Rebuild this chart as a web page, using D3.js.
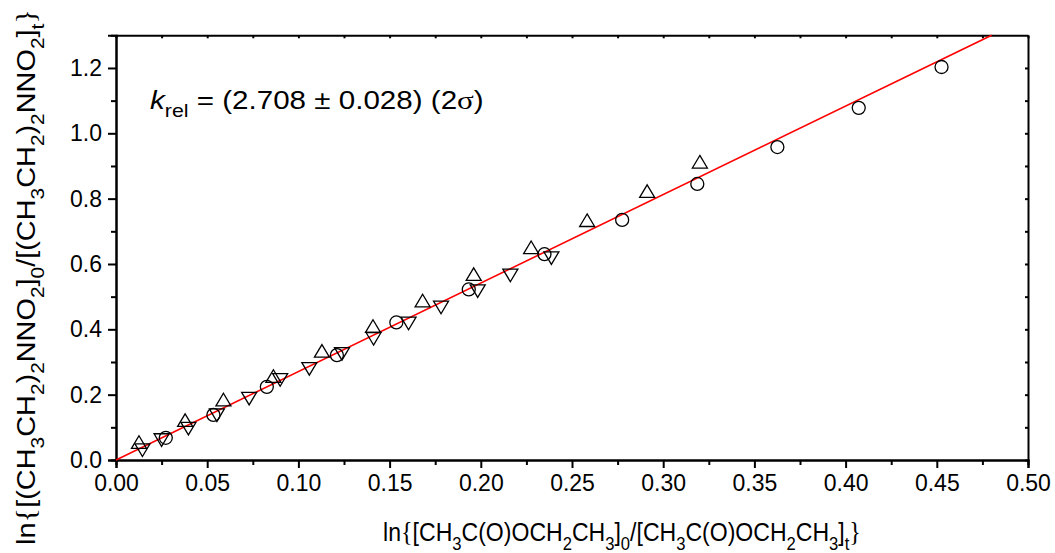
<!DOCTYPE html>
<html>
<head>
<meta charset="utf-8">
<script src="https://cdn.jsdelivr.net/npm/d3@7"></script>
<style>
  body { margin: 0; background: #fff; }
  text { font-family: "Liberation Sans", Arial, sans-serif; fill: #000; }
</style>
</head>
<body>
<svg id="chart" width="1055" height="553"></svg>
<script>
// Relative-rate data: three experiment series (open circles, up / down triangles)
const circleX = [0.0273, 0.0534, 0.0827, 0.1211, 0.1537, 0.1934, 0.2349, 0.2775, 0.3187, 0.3626, 0.4072, 0.4526];
const circleY = [0.068, 0.138, 0.224, 0.321, 0.421, 0.522, 0.630, 0.735, 0.845, 0.958, 1.078, 1.203];

const upX = [0.0126, 0.0379, 0.0589, 0.0863, 0.1129, 0.1409, 0.1681, 0.1961, 0.2276, 0.2583, 0.2912, 0.3201];
const upY = [0.055, 0.122, 0.185, 0.257, 0.334, 0.410, 0.488, 0.569, 0.651, 0.734, 0.823, 0.913];

const downX = [0.0145, 0.0250, 0.0397, 0.0553, 0.0730, 0.0900, 0.1060, 0.1239, 0.1412, 0.1604, 0.1782, 0.1983, 0.2162, 0.2387];
const downY = [0.030, 0.061, 0.096, 0.137, 0.188, 0.245, 0.279, 0.325, 0.371, 0.418, 0.467, 0.517, 0.565, 0.618];

// Fitted slope (k_rel) of the line through the origin
const kRel = 2.708;

// Axis ticks
const xMajorTicks = [0, 0.05, 0.10, 0.15, 0.20, 0.25, 0.30, 0.35, 0.40, 0.45, 0.50];
const xMinorTicks = [0.025, 0.075, 0.125, 0.175, 0.225, 0.275, 0.325, 0.375, 0.425, 0.475];
const yMajorTicks = [0, 0.2, 0.4, 0.6, 0.8, 1.0, 1.2];
const yMinorTicks = [0.1, 0.3, 0.5, 0.7, 0.9, 1.1];

const svg = d3.select("#chart");

const x = d3.scaleLinear().domain([0, 0.5]).range([116, 1028]);
const y = d3.scaleLinear().domain([0, 1.3]).range([460, 35.3]);

const axisStyle = g => {
  g.select(".domain").attr("stroke", "#000").attr("stroke-width", 2);
  g.selectAll(".tick line").attr("stroke", "#000").attr("stroke-width", 2);
  g.selectAll(".tick text").attr("font-size", 23).attr("fill", "#000")
    .attr("font-family", "'Liberation Sans', Arial, sans-serif");
};

// Bottom axis: major with labels, then minor
svg.append("g").attr("transform", `translate(0,${y(0)})`)
  .call(d3.axisBottom(x).tickValues(xMajorTicks).tickFormat(d3.format(".2f")).tickSize(8).tickPadding(7))
  .call(axisStyle);
svg.append("g").attr("transform", `translate(0,${y(0)})`)
  .call(d3.axisBottom(x).tickValues(xMinorTicks).tickFormat("").tickSize(5))
  .call(axisStyle);

// Left axis
svg.append("g").attr("transform", `translate(${x(0)},0)`)
  .call(d3.axisLeft(y).tickValues(yMajorTicks).tickFormat(d3.format(".1f")).tickSize(8).tickPadding(6))
  .call(axisStyle);
svg.append("g").attr("transform", `translate(${x(0)},0)`)
  .call(d3.axisLeft(y).tickValues(yMinorTicks).tickFormat("").tickSize(5))
  .call(axisStyle);

// Top and right frame with short inward ticks
svg.append("g").attr("transform", `translate(0,${y(1.3)})`)
  .call(d3.axisTop(x).tickValues(xMajorTicks.concat(xMinorTicks)).tickFormat("").tickSizeInner(-3).tickSizeOuter(0))
  .call(axisStyle);
svg.append("g").attr("transform", `translate(${x(0.5)},0)`)
  .call(d3.axisRight(y).tickValues(yMajorTicks.concat(yMinorTicks)).tickFormat("").tickSizeInner(-3).tickSizeOuter(0))
  .call(axisStyle);

// Fit line through the origin, up to the top of the frame
const xEnd = y.domain()[1] / kRel;
svg.append("path")
  .datum([0, xEnd])
  .attr("d", d3.line().x(d => x(d)).y(d => y(kRel * d)))
  .attr("fill", "none")
  .attr("stroke", "#ff0000")
  .attr("stroke-width", 1.6);

// Marker shapes (centred on their bounding box)
const W = 15, H = 12.6, R = 6.5;
const triUp = {
  draw(ctx) {
    ctx.moveTo(0, -H / 2); ctx.lineTo(W / 2, H / 2); ctx.lineTo(-W / 2, H / 2); ctx.closePath();
  }
};
const triDown = {
  draw(ctx) {
    ctx.moveTo(0, H / 2); ctx.lineTo(W / 2, -H / 2); ctx.lineTo(-W / 2, -H / 2); ctx.closePath();
  }
};

function drawSeries(xs, ys, type) {
  const pts = xs.map((v, i) => [v, ys[i]]);
  const g = svg.append("g");
  if (type === "circle") {
    g.selectAll("circle").data(pts).join("circle")
      .attr("cx", d => x(d[0])).attr("cy", d => y(d[1])).attr("r", R)
      .attr("fill", "none").attr("stroke", "#000").attr("stroke-width", 1.3);
  } else {
    g.selectAll("path").data(pts).join("path")
      .attr("transform", d => `translate(${x(d[0])},${y(d[1])})`)
      .attr("d", d3.symbol().type(type === "up" ? triUp : triDown)())
      .attr("fill", "none").attr("stroke", "#000").attr("stroke-width", 1.3);
  }
}
drawSeries(upX, upY, "up");
drawSeries(downX, downY, "down");
drawSeries(circleX, circleY, "circle");

// Text with subscripts / italics / serif glyphs
function rich(textSel, parts, size) {
  let cur = 0;
  parts.forEach(([str, kind]) => {
    const sub = kind === "sub";
    const target = sub ? size * 0.33 : 0;
    const ts = textSel.append("tspan").text(str).attr("dy", target - cur);
    cur = target;
    if (sub) ts.attr("font-size", size * 0.72);
    if (kind === "it") ts.attr("font-style", "italic");
    if (kind === "serif") ts.attr("font-family", "'Liberation Serif', 'DejaVu Serif', serif").attr("font-size", size * 1.05);
  });
}

// Stretch a label horizontally (in its own frame) so it spans a given length
function stretchTo(textSel, length) {
  const w = textSel.node().getBBox().width;
  return w > 0 ? length / w : 1;
}

// Annotation
const ann = svg.append("text").attr("x", 0).attr("y", 0).attr("font-size", 25);
rich(ann, [["k", "it"], ["rel", "sub"], [" = (2.708 \u00b1 0.028) (2", "n"], ["\u03c3", "serif"], [")", "n"]], 25);
ann.attr("transform", `translate(150,109) scale(${stretchTo(ann, 334)},1)`);

// X axis title
const xt = svg.append("text").attr("x", 0).attr("y", 0).attr("text-anchor", "middle").attr("font-size", 26);
rich(xt, [["ln", "n"], ["{", "serif"], ["[CH", "n"], ["3", "sub"], ["C(O)OCH", "n"], ["2", "sub"], ["CH", "n"], ["3", "sub"],
  ["]", "n"], ["0", "sub"], ["/[CH", "n"], ["3", "sub"], ["C(O)OCH", "n"], ["2", "sub"], ["CH", "n"], ["3", "sub"], ["]", "n"], ["t", "sub"], ["}", "serif"]], 26);
xt.attr("transform", `translate(622,541) scale(${stretchTo(xt, 478)},1)`);

// Y axis title
const yt = svg.append("text").attr("x", 0).attr("y", 0).attr("text-anchor", "middle").attr("font-size", 26);
rich(yt, [["ln", "n"], ["{", "serif"], ["[(CH", "n"], ["3", "sub"], ["CH", "n"], ["2", "sub"], [")", "n"], ["2", "sub"], ["NNO", "n"], ["2", "sub"],
  ["]", "n"], ["0", "sub"], ["/[(CH", "n"], ["3", "sub"], ["CH", "n"], ["2", "sub"], [")", "n"], ["2", "sub"], ["NNO", "n"], ["2", "sub"], ["]", "n"], ["t", "sub"], ["}", "serif"]], 26);
yt.attr("transform", `translate(35,277) rotate(-90) scale(${stretchTo(yt, 536)},1)`);
</script>
</body>
</html>
